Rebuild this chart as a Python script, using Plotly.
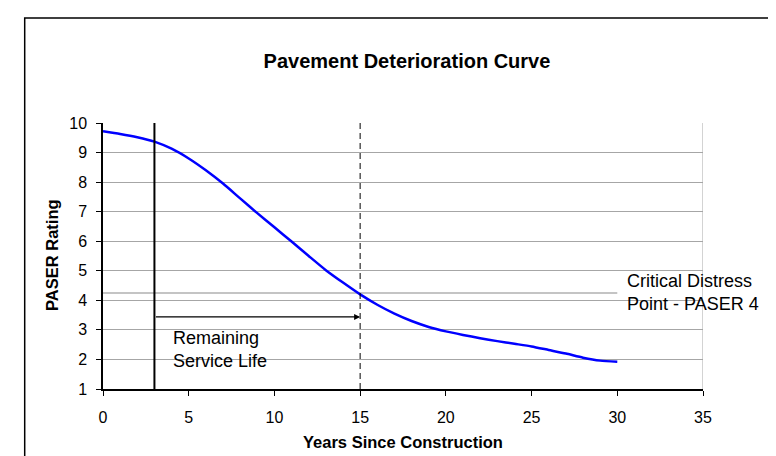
import plotly.graph_objects as go

# ---- data ----
years = list(range(0, 31))
paser = [9.72, 9.63, 9.52, 9.37, 9.13, 8.80, 8.40, 7.95, 7.45, 6.95,
         6.47, 5.99, 5.50, 5.02, 4.60, 4.20, 3.85, 3.55, 3.30, 3.10,
         2.95, 2.83, 2.72, 2.62, 2.53, 2.44, 2.32, 2.20, 2.06, 1.96, 1.92]
x_ticks = [0, 5, 10, 15, 20, 25, 30, 35]
y_ticks = [1, 2, 3, 4, 5, 6, 7, 8, 9, 10]
critical_level = 4.25
current_year = 3
critical_year = 15
arrow_level = 3.44
title_text = "Pavement Deterioration Curve"
x_title = "Years Since Construction"
y_title = "PASER Rating"
critical_label = "Critical Distress<br>Point - PASER 4"
remaining_label = "Remaining<br>Service Life"

FONT = "Liberation Sans, Arial, sans-serif"

fig = go.Figure()

fig.add_trace(go.Scatter(
    x=years, y=paser, mode="lines",
    line=dict(color="#0000ff", width=2.5, shape="spline", smoothing=0.6),
    showlegend=False, hoverinfo="skip"))

shapes = [
    dict(type="line", xref="x", yref="y", x0=years[0], x1=years[-1],
         y0=critical_level, y1=critical_level,
         line=dict(color="#c4c4c4", width=2), layer="below"),
    dict(type="line", xref="x", yref="y", x0=x_ticks[-1], x1=x_ticks[-1],
         y0=y_ticks[0], y1=y_ticks[-1], line=dict(color="#a6a6a6", width=1)),
    dict(type="line", xref="x", yref="y", x0=current_year, x1=current_year,
         y0=y_ticks[0], y1=y_ticks[-1], line=dict(color="black", width=2)),
    dict(type="line", xref="x", yref="y", x0=critical_year, x1=critical_year,
         y0=y_ticks[0], y1=y_ticks[-1],
         line=dict(color="black", width=1, dash="6px,4px")),
    dict(type="rect", xref="paper", yref="paper", x0=-0.1305, x1=1.25,
         y0=-0.45, y1=1.395, line=dict(color="black", width=1.5)),
]

annotations = [
    dict(x=critical_year, y=arrow_level, ax=current_year, ay=arrow_level,
         xref="x", yref="y", axref="x", ayref="y", text="",
         showarrow=True, arrowhead=2, arrowsize=1, arrowwidth=1.2,
         arrowcolor="black"),
    dict(x=30.45, y=critical_level, xref="x", yref="y", text=critical_label,
         showarrow=False, xanchor="left", yanchor="middle", align="left",
         font=dict(family=FONT, size=18, color="black")),
    dict(x=3.98, y=2.35, xref="x", yref="y", text=remaining_label,
         showarrow=False, xanchor="left", yanchor="middle", align="left",
         font=dict(family=FONT, size=18, color="black")),
    # axis titles
    dict(x=0.5, y=(381 - 434) / 266.3, xref="paper", yref="paper",
         text="<b>" + x_title + "</b>", showarrow=False,
         xanchor="center", yanchor="middle",
         font=dict(family=FONT, size=16.5, color="black")),
    dict(x=(44 - 95) / 600, y=0.504, xref="paper", yref="paper",
         text="<b>" + y_title + "</b>", showarrow=False, textangle=-90,
         xanchor="center", yanchor="middle",
         font=dict(family=FONT, size=16.5, color="black")),
]

fig.update_layout(
    width=776, height=456,
    margin=dict(l=95, r=81, t=115, b=75),
    paper_bgcolor="white", plot_bgcolor="white",
    font=dict(family=FONT, color="black"),
    title=dict(text="<b>" + title_text + "</b>", x=399 / 776, xref="container",
               xanchor="center", y=1 - 53 / 456, yref="container",
               yanchor="middle", font=dict(size=20, family=FONT)),
    shapes=shapes, annotations=annotations,
    xaxis=dict(range=[0, 35], tickvals=x_ticks, showgrid=False,
               showline=True, linecolor="black", linewidth=1.5,
               ticks="outside", ticklen=5, tickcolor="black",
               tickfont=dict(size=16), zeroline=False,
               ticklabelstandoff=8),
    yaxis=dict(range=[1, 10], tickvals=y_ticks, showgrid=True,
               gridcolor="#a6a6a6", gridwidth=1,
               showline=True, linecolor="black", linewidth=1.5,
               ticks="outside", ticklen=5, tickcolor="black",
               tickfont=dict(size=16), zeroline=False,
               ticklabelstandoff=6),
)

fig.write_html("out.html")
